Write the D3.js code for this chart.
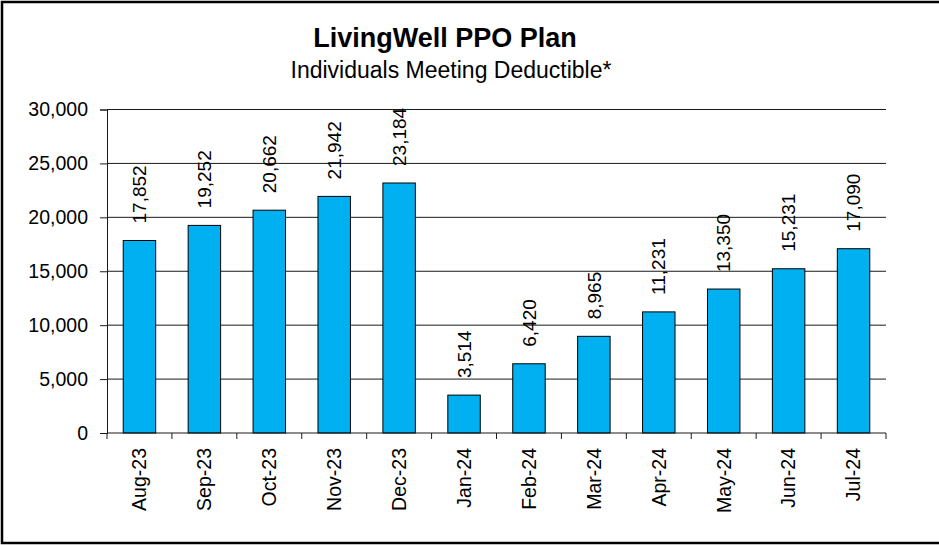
<!DOCTYPE html>
<html>
<head>
<meta charset="utf-8">
<script src="https://cdn.jsdelivr.net/npm/d3@7"></script>
<style>
  body { margin: 0; background: #fff; }
  svg { display: block; font-family: Arial, "Liberation Sans", sans-serif; }
</style>
</head>
<body>
<svg width="939" height="545"></svg>
<script>
// chart values
const months = ['Aug-23', 'Sep-23', 'Oct-23', 'Nov-23', 'Dec-23', 'Jan-24',
  'Feb-24', 'Mar-24', 'Apr-24', 'May-24', 'Jun-24', 'Jul-24'];
const individuals = [17852, 19252, 20662, 21942, 23184, 3514,
  6420, 8965, 11231, 13350, 15231, 17090];
const yTicks = [0, 5000, 10000, 15000, 20000, 25000, 30000];

const svg = d3.select('svg');
const format = d3.format(',d');

const plotLeft = 107, plotRight = 886, plotTop = 109.5, plotBottom = 433;

// outer frame
svg.append('rect')
  .attr('x', 2).attr('y', 2)
  .attr('width', 945).attr('height', 541)
  .attr('fill', 'none')
  .attr('stroke', '#000')
  .attr('stroke-width', 2.5);

svg.append('text')
  .attr('x', 445).attr('y', 47)
  .attr('text-anchor', 'middle')
  .style('font-size', '27px')
  .style('font-weight', 'bold')
  .text('LivingWell PPO Plan');

svg.append('text')
  .attr('x', 451).attr('y', 78)
  .attr('text-anchor', 'middle')
  .style('font-size', '23px')
  .text('Individuals Meeting Deductible*');

const x = d3.scaleBand()
  .domain(months)
  .range([plotLeft, plotRight])
  .paddingInner(0.5)
  .paddingOuter(0.25);

const y = d3.scaleLinear()
  .domain([0, 30000])
  .range([plotBottom, plotTop]);

// gridlines
svg.append('g')
  .selectAll('line')
  .data(yTicks.slice(1))
  .enter().append('line')
  .attr('x1', plotLeft).attr('x2', plotRight)
  .attr('y1', function (d) { return y(d); })
  .attr('y2', function (d) { return y(d); })
  .attr('stroke', '#1a1a1a')
  .attr('stroke-width', 1);

// y axis
const yAxis = svg.append('g')
  .attr('transform', 'translate(' + plotLeft + ',0)')
  .call(d3.axisLeft(y).tickValues(yTicks).tickFormat(format).tickSize(7).tickPadding(12));
yAxis.select('.domain').attr('stroke', '#1a1a1a');
yAxis.selectAll('.tick line').attr('stroke', '#1a1a1a');
yAxis.selectAll('text')
  .attr('fill', '#000')
  .style('font-family', 'Arial, "Liberation Sans", sans-serif')
  .style('font-size', '19.5px');

// bars
svg.append('g')
  .selectAll('rect')
  .data(individuals)
  .enter().append('rect')
  .attr('x', function (d, i) { return x(months[i]); })
  .attr('y', function (d) { return y(d); })
  .attr('width', x.bandwidth())
  .attr('height', function (d) { return plotBottom - y(d); })
  .attr('fill', '#00B0F0')
  .attr('stroke', '#000')
  .attr('stroke-width', 1);

// value labels
svg.append('g')
  .selectAll('text')
  .data(individuals)
  .enter().append('text')
  .attr('transform', function (d, i) {
    const cx = x(months[i]) + x.bandwidth() / 2;
    return 'translate(' + cx + ',' + (y(d) - 17) + ') rotate(-90)';
  })
  .attr('dy', '0.35em')
  .style('font-size', '19px')
  .text(function (d) { return format(d); });

// x axis
const step = x.step();
svg.append('line')
  .attr('x1', plotLeft).attr('x2', plotRight)
  .attr('y1', plotBottom).attr('y2', plotBottom)
  .attr('stroke', '#1a1a1a');

svg.append('g')
  .selectAll('line')
  .data(d3.range(months.length + 1))
  .enter().append('line')
  .attr('x1', function (i) { return plotLeft + i * step; })
  .attr('x2', function (i) { return plotLeft + i * step; })
  .attr('y1', plotBottom).attr('y2', plotBottom + 6)
  .attr('stroke', '#1a1a1a');

svg.append('g')
  .selectAll('text')
  .data(months)
  .enter().append('text')
  .attr('transform', function (d) {
    return 'translate(' + (x(d) + x.bandwidth() / 2) + ',' + (plotBottom + 15) + ') rotate(-90)';
  })
  .attr('text-anchor', 'end')
  .attr('dy', '0.35em')
  .style('font-size', '19.5px')
  .text(function (d) { return d; });
</script>
</body>
</html>
